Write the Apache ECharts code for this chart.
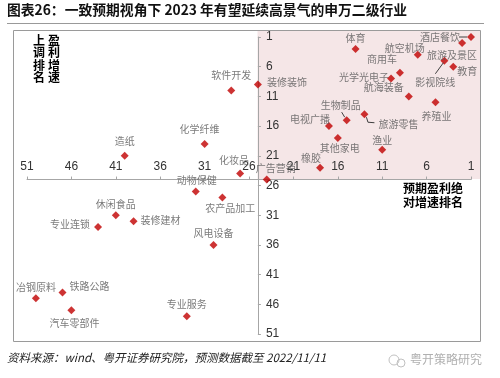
<!DOCTYPE html>
<html><head><meta charset="utf-8">
<script src="https://cdn.jsdelivr.net/npm/echarts@6/dist/echarts.min.js"></script>
<style>html,body{margin:0;padding:0;background:#fff}#c{width:500px;height:378px}</style>
</head><body><div id="c"></div>
<script>
// ---- data ----
const industries = ['体育','酒店餐饮','旅游及景区','影视院线','教育','航空机场','商用车','光学光电子','航海装备','养殖业',
  '生物制品','旅游零售','电视广播','其他家电','渔业','橡胶','广告营销','装修装饰','软件开发','化学纤维',
  '造纸','化妆品','动物保健','农产品加工','休闲食品','装修建材','专业连锁','风电设备','冶钢原料','铁路公路',
  '汽车零部件','专业服务'];
// 预期盈利绝对增速排名 (x)
const absGrowthRank = [14,1,2,4,3,7,9,10,8,5, 15,13,17,16,11,18,24,25,28,31, 40,27,32,29,41,39,43,30,50,47, 46,33];
// 盈利增速上调排名 (y)
const upgradeRank = [3,1,2,5,6,4,7,8,11,12, 15,14,16,18,20,23,25,9,10,19, 21,24,27,28,31,32,33,36,45,44, 47,48];
const rankMin = 1, rankMax = 51, rankStep = 5, crossRank = 25;

// ---- label placement (style only, pixel offsets from the mark) ----
const labelOffset = {
  '体育':[0,-11],'酒店餐饮':[-31,0],'旅游及景区':[-10,12],'影视院线':[-9,21],'教育':[14,5],
  '航空机场':[-13,-7],'商用车':[-18,-13],'光学光电子':[-27,-1],'航海装备':[-25,-9],'养殖业':[1,14],
  '生物制品':[-6,-15],'旅游零售':[34,10],'电视广播':[-19,-7],'其他家电':[2,10],'渔业':[0,-10],
  '橡胶':[-9,-9],'广告营销':[9,-11],'装修装饰':[29,-2],'软件开发':[0,-15],'化学纤维':[-5,-15],
  '造纸':[0,-15],'化妆品':[-6,-13],'动物保健':[1,-11],'农产品加工':[8,11],'休闲食品':[0,-11],
  '装修建材':[27,-1],'专业连锁':[-28,-3],'风电设备':[0,-12],'冶钢原料':[0,-11],'铁路公路':[27,-6],
  '汽车零部件':[3,13],'专业服务':[0,-12]
};
// leader line shapes, pixel offsets from the mark
const leaderShape = {
  '酒店餐饮':[[-12,0],[-4,0]],
  '影视院线':[[-1,2],[-9,13]],
  '生物制品':[[-5,-8],[-2,-3]],
  '旅游零售':[[2,3],[3.5,8],[10,8.5]]
};

const chart = echarts.init(document.getElementById('c'), null, {renderer:'canvas'});
const CJK = '"Noto Sans CJK SC","Noto Sans",sans-serif';

const data = industries.map((n,i)=>({name:n, value:[absGrowthRank[i], upgradeRank[i]]}));

const gridTop = 37, gridBottom = 44, gridLeft = 27, gridRight = 29;
const plotH = 378 - gridTop - gridBottom, plotW = 500 - gridLeft - gridRight;
const xAxisOffset = -((crossRank - rankMin)/(rankMax - rankMin))*plotH;
const yAxisOffset = -((crossRank - rankMin)/(rankMax - rankMin))*plotW;

const baseGraphic = [
    {id:'pink',type:'rect',z:-100,shape:{x:257.5,y:30.5,width:223,height:148.5},style:{fill:'#f5e6e7'},silent:true},
    {id:'frame',type:'rect',z:100,shape:{x:13.5,y:30.5,width:467,height:311},style:{fill:null,stroke:'#9a9a9a',lineWidth:1},silent:true},
    {id:'title',type:'text',left:7,top:3,style:{text:'图表26：一致预期视角下 2023 年有望延续高景气的申万二级行业',fill:'#111',font:'bold 13.8px '+CJK}},
    {id:'tline',type:'line',shape:{x1:7,y1:23.5,x2:484,y2:23.5},style:{stroke:'#999',lineWidth:1.2}},
    {id:'yn1',type:'text',left:33,top:34,style:{text:'上\n调\n排\n名',fill:'#000',font:'bold 12px '+CJK,lineHeight:12.5}},
    {id:'yn2',type:'text',left:48,top:34,style:{text:'盈\n利\n增\n速',fill:'#000',font:'bold 12px '+CJK,lineHeight:12.5}},
    {id:'xn',type:'text',left:403,top:181,style:{text:'预期盈利绝\n对增速排名',fill:'#000',font:'bold 12px '+CJK,lineHeight:14,align:'center'}},
    {id:'src',type:'text',left:7,top:352,style:{text:'资料来源：wind、粤开证券研究院，预测数据截至 2022/11/11',fill:'#222',font:'italic 11.5px '+CJK}},
    {id:'wm',type:'text',left:410,top:353,style:{text:'粤开策略研究',fill:'#b0b0b0',font:'12px '+CJK}},
    {id:'wc1',type:'circle',shape:{cx:394,cy:360,r:5},style:{fill:null,stroke:'#c0c0c0',lineWidth:1}},
    {id:'wc2',type:'circle',shape:{cx:401,cy:363,r:4},style:{fill:null,stroke:'#c0c0c0',lineWidth:1}}
];

chart.setOption({
  animation:false,
  grid:{left:gridLeft,right:gridRight,top:gridTop,bottom:gridBottom},
  xAxis:{type:'value',min:rankMin,max:rankMax,interval:rankStep,inverse:true,position:'top',offset:xAxisOffset,
    axisLine:{show:true,lineStyle:{color:'#a6a6a6'}},axisTick:{show:true,length:3,lineStyle:{color:'#a6a6a6'}},
    axisLabel:{color:'#333',fontSize:12,margin:7,fontFamily:'"Liberation Sans",Arial,sans-serif'},splitLine:{show:false}},
  yAxis:{type:'value',min:rankMin,max:rankMax,interval:rankStep,inverse:true,position:'right',offset:yAxisOffset,
    axisLine:{show:true,lineStyle:{color:'#a6a6a6'}},axisTick:{show:true,length:3,lineStyle:{color:'#a6a6a6'}},
    axisLabel:{color:'#333',fontSize:12,margin:8,fontFamily:'"Liberation Sans",Arial,sans-serif'},splitLine:{show:false}},
  graphic:baseGraphic,
  series:[{
    type:'scatter',symbol:'diamond',symbolSize:8,itemStyle:{color:'#c00000'},
    data:data,
    label:{show:true,position:'inside',formatter:'{b}',color:'#595959',fontSize:10,fontFamily:CJK},
    labelLayout:function(p){const o=labelOffset[industries[p.dataIndex]];return {dx:o[0],dy:o[1]};},
    z:5
  }]
});

// leader lines anchored to marks via the chart's own scales
const leaders = Object.keys(leaderShape).map(n=>{
  const i = industries.indexOf(n);
  const c = chart.convertToPixel({seriesIndex:0},[absGrowthRank[i],upgradeRank[i]]);
  return {id:'ld_'+n,type:'polyline',z:50,shape:{points:leaderShape[n].map(p=>[c[0]+p[0],c[1]+p[1]])},
          style:{stroke:'#404040',lineWidth:1,fill:null},silent:true};
});
chart.setOption({graphic:baseGraphic.concat(leaders)});
</script></body></html>
